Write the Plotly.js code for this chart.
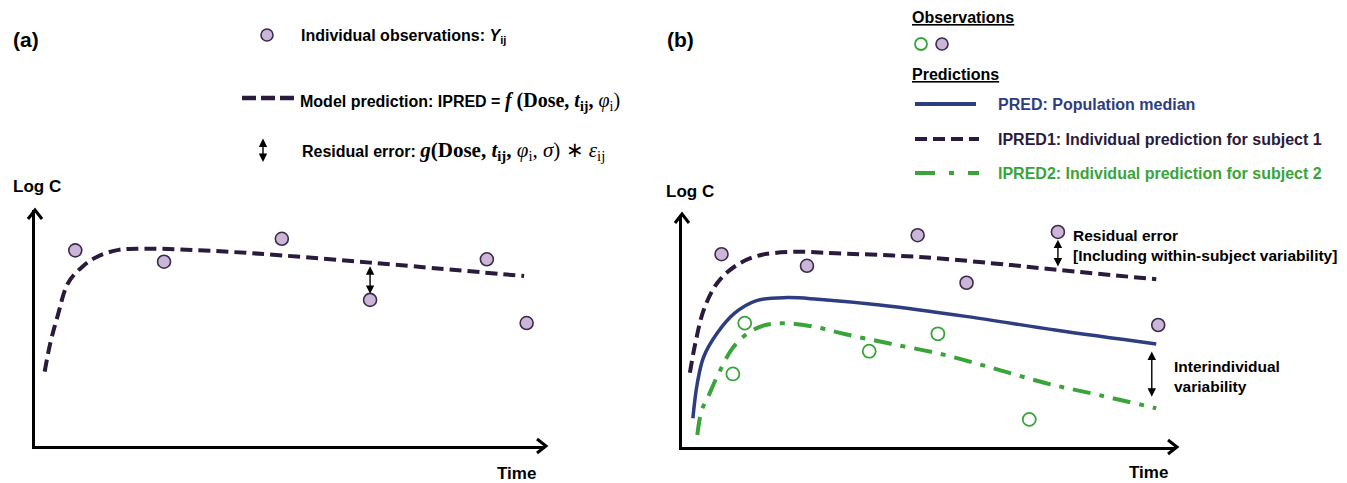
<!DOCTYPE html>
<html><head><meta charset="utf-8">
<script src="https://cdn.plot.ly/plotly-3.0.1.min.js"></script>
<style>body{margin:0;background:#fff}#chart{width:1347px;height:483px}</style>
</head><body><div id="chart"></div>
<script>
// ---------- Panel (a) data (time, log C in arbitrary units 0-10) ----------
const obsA_t = [0.79, 2.53, 4.84, 6.57, 8.86, 9.64];
const obsA_c = [8.29, 7.81, 8.78, 6.19, 7.91, 5.21];
const ipredA_t = [0.19, 0.30, 0.44, 0.65, 0.93, 1.22, 1.64, 2.13, 2.83, 4.24, 6.57, 9.59];
const ipredA_c = [3.15, 4.36, 5.48, 6.91, 7.60, 8.02, 8.31, 8.36, 8.33, 8.17, 7.77, 7.20];
const residA_t = 6.57, residA_from = 7.68, residA_to = 6.45;

// ---------- Panel (b) data ----------
const obs1_t = [0.80, 2.53, 4.77, 5.76, 7.61, 9.64];
const obs1_c = [8.31, 7.81, 9.13, 7.08, 9.27, 5.26];
const obs2_t = [1.27, 1.03, 3.79, 5.18, 7.03];
const obs2_c = [5.34, 3.15, 4.13, 4.88, 1.19];
const ipred1_t = [0.16, 0.27, 0.44, 0.71, 1.06, 1.51, 2.22, 3.11, 4.89, 6.66, 7.62, 9.60];
const ipred1_c = [3.20, 4.47, 5.91, 7.06, 7.77, 8.23, 8.41, 8.35, 8.18, 7.84, 7.63, 7.23];
const pred_t = [0.22, 0.31, 0.44, 0.71, 1.06, 1.51, 2.13, 2.75, 4.00, 5.78, 7.55, 9.60];
const pred_c = [1.24, 2.75, 3.89, 4.90, 5.76, 6.31, 6.44, 6.37, 6.12, 5.62, 5.04, 4.44];
const ipred2_t = [0.31, 0.40, 0.53, 0.71, 1.02, 1.33, 1.69, 2.13, 2.66, 3.29, 4.18, 5.24, 6.31, 7.37, 8.44, 9.60];
const ipred2_c = [0.52, 1.59, 2.17, 3.03, 4.25, 4.90, 5.26, 5.33, 5.19, 4.87, 4.47, 4.01, 3.39, 2.75, 2.24, 1.67];
const residB_t = 7.61, residB_from = 9.00, residB_to = 7.78;
const iivB_t = 9.51, iivB_from = 4.18, iivB_to = 2.17;

// ---------- styles ----------
const W = 1347, H = 483;
const FONT = 'Liberation Sans, Arial, sans-serif';
const SERIF = "'Liberation Serif', 'Times New Roman', serif";
const PURPLE_FILL = '#cbb6d8', PURPLE_EDGE = '#3a2a4c';
const DARK = '#2a1a3c', BLUE = '#2d3d80', GREEN = '#3aa43a';
const DASH = '12px,6px', DASHDOT = '18px,9px,5px,9px';
const px = x => x / W, py = y => 1 - y / H;

const traces = [
  {x: ipredA_t, y: ipredA_c, xaxis: 'x', yaxis: 'y', mode: 'lines',
   line: {color: DARK, width: 4, dash: DASH, shape: 'spline', smoothing: 1}},
  {x: obsA_t, y: obsA_c, xaxis: 'x', yaxis: 'y', mode: 'markers', cliponaxis: false,
   marker: {size: 13, color: PURPLE_FILL, line: {color: PURPLE_EDGE, width: 1.6}}},
  {x: ipred1_t, y: ipred1_c, xaxis: 'x2', yaxis: 'y2', mode: 'lines',
   line: {color: DARK, width: 4, dash: DASH, shape: 'spline', smoothing: 1}},
  {x: pred_t, y: pred_c, xaxis: 'x2', yaxis: 'y2', mode: 'lines',
   line: {color: BLUE, width: 3.5, shape: 'spline', smoothing: 1}},
  {x: ipred2_t, y: ipred2_c, xaxis: 'x2', yaxis: 'y2', mode: 'lines',
   line: {color: GREEN, width: 4, dash: DASHDOT, shape: 'spline', smoothing: 1}},
  {x: obs1_t, y: obs1_c, xaxis: 'x2', yaxis: 'y2', mode: 'markers', cliponaxis: false,
   marker: {size: 13, color: PURPLE_FILL, line: {color: PURPLE_EDGE, width: 1.6}}},
  {x: obs2_t, y: obs2_c, xaxis: 'x2', yaxis: 'y2', mode: 'markers', cliponaxis: false,
   marker: {size: 13, color: '#ffffff', line: {color: GREEN, width: 1.8}}}
];

const axBase = {range: [0, 10], showgrid: false, zeroline: false, showticklabels: false,
  ticks: '', showline: true, linewidth: 3, linecolor: '#000', fixedrange: true};

function chevron(x, y, dir) {
  let p;
  if (dir === 'right') p = [[x - 9, y - 7], [x, y], [x - 9, y + 7]];
  else p = [[x - 7, y + 9], [x, y], [x + 7, y + 9]];
  return {type: 'path', xref: 'paper', yref: 'paper',
    path: 'M' + p.map(q => px(q[0]) + ',' + py(q[1])).join(' L'),
    line: {color: '#000', width: 3}};
}

const shapes = [
  chevron(546, 446, 'right'), chevron(35, 210, 'up'),
  chevron(1177, 447, 'right'), chevron(682, 214, 'up'),
  // legend (a)
  {type: 'circle', xref: 'paper', yref: 'paper', x0: px(261), x1: px(273), y0: py(29), y1: py(41),
   fillcolor: PURPLE_FILL, line: {color: PURPLE_EDGE, width: 1.6}},
  {type: 'line', xref: 'paper', yref: 'paper', x0: px(242), x1: px(294), y0: py(98), y1: py(98),
   line: {color: DARK, width: 4.5, dash: '14px,5px'}},
  // legend (b)
  {type: 'circle', xref: 'paper', yref: 'paper', x0: px(915), x1: px(927), y0: py(38), y1: py(50),
   fillcolor: '#fff', line: {color: GREEN, width: 1.8}},
  {type: 'circle', xref: 'paper', yref: 'paper', x0: px(936), x1: px(948), y0: py(38), y1: py(50),
   fillcolor: PURPLE_FILL, line: {color: PURPLE_EDGE, width: 1.6}},
  {type: 'line', xref: 'paper', yref: 'paper', x0: px(915), x1: px(976), y0: py(104), y1: py(104),
   line: {color: BLUE, width: 4}},
  {type: 'line', xref: 'paper', yref: 'paper', x0: px(915), x1: px(979), y0: py(139), y1: py(139),
   line: {color: DARK, width: 4, dash: DASH}},
  {type: 'line', xref: 'paper', yref: 'paper', x0: px(915), x1: px(979), y0: py(173), y1: py(173),
   line: {color: GREEN, width: 4, dash: '20px,14px,5px,14px'}}
];

function txt(x, y, text, size, color, extra) {
  return Object.assign({xref: 'paper', yref: 'paper', x: px(x), y: py(y), text: text,
    showarrow: false, xanchor: 'left', yanchor: 'middle', align: 'left', borderpad: 0,
    font: {family: FONT, size: size, color: color || '#000'}}, extra || {});
}
function dbl(xr, yr, x, y0, y1) {
  return {xref: xr, yref: yr, axref: xr, ayref: yr, x: x, y: y1, ax: x, ay: y0, text: '',
    showarrow: true, arrowside: 'end+start', arrowhead: 2, arrowsize: 1.2, arrowwidth: 1.4,
    arrowcolor: '#000', standoff: 0, startstandoff: 0};
}

const M = (s, sz) => '<span style="font-family:' + SERIF + ';font-size:' + sz + 'px">' + s + '</span>';

const annotations = [
  txt(12, 40, '<b>(a)</b>', 21),
  txt(666, 40, '<b>(b)</b>', 21),
  txt(300, 37, '<b>Individual observations: <i>Y</i><sub>ij</sub></b>', 16),
  txt(299, 101, '<b>Model prediction: IPRED = </b>' + M('<b><i>f</i> (Dose, <i>t</i><sub>ij</sub>,</b> <i>φ</i><sub>i</sub>)', 20), 16),
  txt(301, 151, '<b>Residual error: </b>' + M('<b><i>g</i>(Dose, <i>t</i><sub>ij</sub>,</b> <i>φ</i><sub>i</sub>, <i>σ</i>) ∗ <i>ε</i><sub>ij</sub>', 21), 16),
  txt(12, 186, '<b>Log C</b>', 17),
  txt(496, 473, '<b>Time</b>', 17),
  txt(665, 191, '<b>Log C</b>', 17),
  txt(1128, 472, '<b>Time</b>', 17),
  txt(911, 18, '<b><u>Observations</u></b>', 16),
  txt(911, 75, '<b><u>Predictions</u></b>', 16),
  txt(997, 104, '<b>PRED: Population median</b>', 16, BLUE),
  txt(997, 139, '<b>IPRED1: Individual prediction for subject 1</b>', 16, DARK),
  txt(997, 173, '<b>IPRED2: Individual prediction for subject 2</b>', 16, GREEN),
  txt(1072, 246, '<b>Residual error<br>[Including within-subject variability]</b>', 15.5),
  txt(1173, 376, '<b>Interindividual<br>variability</b>', 15.5),
  {xref: 'paper', yref: 'paper', axref: 'pixel', ayref: 'pixel', x: px(263), y: py(162), ax: 0, ay: -25,
   text: '', showarrow: true, arrowside: 'end+start', arrowhead: 2, arrowsize: 1.2, arrowwidth: 1.4,
   arrowcolor: '#000', standoff: 0, startstandoff: 0},
  dbl('x', 'y', residA_t, residA_from, residA_to),
  dbl('x2', 'y2', residB_t, residB_from, residB_to),
  dbl('x2', 'y2', iivB_t, iivB_from, iivB_to)
];

const layout = {
  width: W, height: H, margin: {l: 0, r: 0, t: 0, b: 0},
  paper_bgcolor: '#fff', plot_bgcolor: 'rgba(0,0,0,0)', showlegend: false,
  font: {family: FONT},
  xaxis: Object.assign({}, axBase, {domain: [px(35), px(545)], anchor: 'y'}),
  yaxis: Object.assign({}, axBase, {domain: [py(446), py(210)], anchor: 'x'}),
  xaxis2: Object.assign({}, axBase, {domain: [px(682), px(1176)], anchor: 'y2'}),
  yaxis2: Object.assign({}, axBase, {domain: [py(447), py(215)], anchor: 'x2'}),
  shapes: shapes, annotations: annotations
};

Plotly.newPlot('chart', traces, layout, {displayModeBar: false, staticPlot: true});
</script></body></html>
